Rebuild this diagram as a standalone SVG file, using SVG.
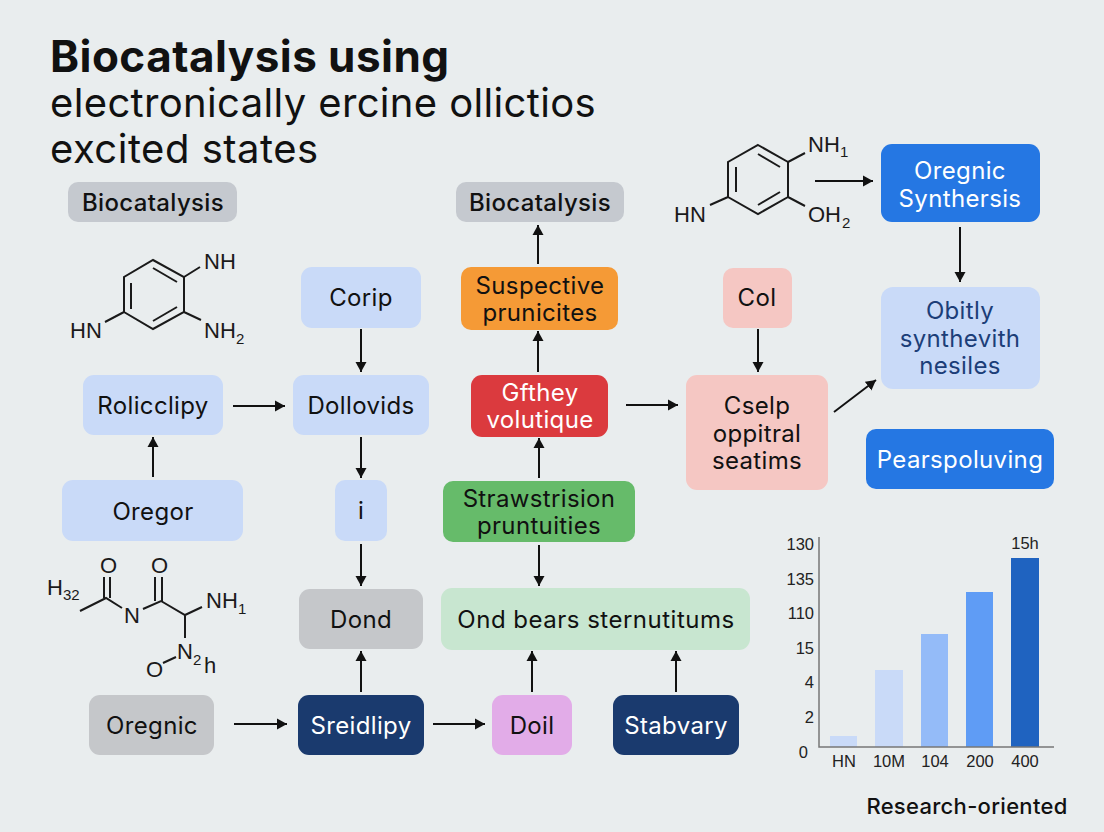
<svg xmlns="http://www.w3.org/2000/svg" width="1104" height="832" viewBox="0 0 1104 832">
<defs>
<marker id="ah" markerUnits="userSpaceOnUse" markerWidth="12" markerHeight="12" refX="10" refY="6" orient="auto"><path d="M0 0.5L10 6L0 11.5z" fill="#111"/></marker>
</defs>
<style>
text{font-family:"Inter","Liberation Sans",sans-serif;fill:#111;text-anchor:middle}
.n{font-size:24px;letter-spacing:.35px}
.c{stroke:#111;stroke-width:2;fill:none;marker-end:url(#ah)}
.b{stroke:#1a1a1a;stroke-width:2;fill:none}
.m{font-family:"Liberation Sans",sans-serif;font-size:22px;fill:#1a1a1a;text-anchor:start}
.ms{font-family:"Liberation Sans",sans-serif;font-size:15px;fill:#1a1a1a;text-anchor:start}
.t{font-family:"Liberation Sans",sans-serif;font-size:16.5px;fill:#222}
.y{font-family:"Liberation Sans",sans-serif;font-size:16.5px;fill:#222;text-anchor:end}
.l{text-anchor:start}
</style>
<rect width="1104" height="832" fill="#e9edee"/>
<g id="title">
<text class="l" x="50" y="72" style="font-size:44px;font-weight:700;letter-spacing:.45px">Biocatalysis using</text>
<text class="l" x="50" y="117" style="font-size:40px;letter-spacing:.35px">electronically ercine ollictios</text>
<text class="l" x="50" y="163" style="font-size:40px;letter-spacing:.5px">excited states</text>
</g>
<g id="connectors">
<path class="c" d="M815 181H873"/>
<path class="c" d="M960 227V282"/>
<path class="c" d="M538 264V225"/>
<path class="c" d="M538 372V331"/>
<path class="c" d="M539 478V438"/>
<path class="c" d="M539 545V586"/>
<path class="c" d="M361 329V372"/>
<path class="c" d="M361 437V478"/>
<path class="c" d="M361 544V586"/>
<path class="c" d="M361 692V651"/>
<path class="c" d="M758 329V372"/>
<path class="c" d="M233 406H285"/>
<path class="c" d="M153 477V437"/>
<path class="c" d="M626 405H678"/>
<path class="c" d="M834 412L876 380"/>
<path class="c" d="M234 724H287"/>
<path class="c" d="M433 724H485"/>
<path class="c" d="M532 692V651"/>
<path class="c" d="M676 692V651"/>
</g>
<g id="n1"><rect x="68" y="182" width="169" height="40" rx="10" fill="#c5c9cf"/><text class="n" x="153" y="211" style="font-weight:500">Biocatalysis</text></g>
<g id="n2"><rect x="456" y="182" width="168" height="40" rx="10" fill="#c5c9cf"/><text class="n" x="540" y="211" style="font-weight:500">Biocatalysis</text></g>
<g id="n3"><rect x="881" y="144" width="159" height="78" rx="11" fill="#2577e3"/><text class="n" x="960" y="179" style="fill:#fff">Oregnic</text><text class="n" x="960" y="207" style="fill:#fff">Synthersis</text></g>
<g id="n4"><rect x="881" y="287" width="159" height="102" rx="12" fill="#c9daf8"/><text class="n" x="960" y="319" style="fill:#1c3e78">Obitly</text><text class="n" x="960" y="347" style="fill:#1c3e78">synthevith</text><text class="n" x="960" y="374" style="fill:#1c3e78">nesiles</text></g>
<g id="n5"><rect x="866" y="429" width="188" height="60" rx="10" fill="#2577e3"/><text class="n" x="960" y="468" style="fill:#fff">Pearspoluving</text></g>
<g id="n6"><rect x="301" y="267" width="120" height="61" rx="11" fill="#c9daf8"/><text class="n" x="361" y="306">Corip</text></g>
<g id="n7"><rect x="461" y="267" width="157" height="63" rx="10" fill="#f59a36"/><text class="n" x="540" y="294">Suspective</text><text class="n" x="540" y="321">prunicites</text></g>
<g id="n8"><rect x="723" y="268" width="69" height="60" rx="10" fill="#f5c7c3"/><text class="n" x="757" y="306">Col</text></g>
<g id="n9"><rect x="83" y="375" width="140" height="60" rx="11" fill="#c9daf8"/><text class="n" x="153" y="414">Rolicclipy</text></g>
<g id="n10"><rect x="293" y="375" width="136" height="60" rx="11" fill="#c9daf8"/><text class="n" x="361" y="414">Dollovids</text></g>
<g id="n11"><rect x="471" y="375" width="137" height="62" rx="11" fill="#db3a3e"/><text class="n" x="540" y="401" style="fill:#fff">Gfthey</text><text class="n" x="540" y="428" style="fill:#fff">volutique</text></g>
<g id="n12"><rect x="686" y="375" width="142" height="115" rx="11" fill="#f5c7c3"/><text class="n" x="757" y="414">Cselp</text><text class="n" x="757" y="442">oppitral</text><text class="n" x="757" y="469">seatims</text></g>
<g id="n13"><rect x="62" y="480" width="181" height="61" rx="11" fill="#c9daf8"/><text class="n" x="153" y="520">Oregor</text></g>
<g id="n14"><rect x="335" y="480" width="52" height="61" rx="10" fill="#c9daf8"/><text class="n" x="361" y="519">i</text></g>
<g id="n15"><rect x="443" y="481" width="192" height="61" rx="10" fill="#66bb6a"/><text class="n" x="539" y="507">Strawstrision</text><text class="n" x="539" y="534">pruntuities</text></g>
<g id="n16"><rect x="299" y="589" width="124" height="60" rx="11" fill="#c5c7ca"/><text class="n" x="361" y="628">Dond</text></g>
<g id="n17"><rect x="441" y="588" width="309" height="62" rx="11" fill="#c8e6d0"/><text class="n" x="596" y="628" style="letter-spacing:.5px">Ond bears sternutitums</text></g>
<g id="n18"><rect x="89" y="695" width="125" height="60" rx="11" fill="#c5c7ca"/><text class="n" x="152" y="734">Oregnic</text></g>
<g id="n19"><rect x="298" y="695" width="126" height="60" rx="11" fill="#1a3a6e"/><text class="n" x="361" y="734" style="fill:#fff">Sreidlipy</text></g>
<g id="n20"><rect x="492" y="695" width="80" height="60" rx="11" fill="#e2ace8"/><text class="n" x="532" y="734">Doil</text></g>
<g id="n21"><rect x="613" y="695" width="126" height="60" rx="11" fill="#1a3a6e"/><text class="n" x="676" y="734" style="fill:#fff">Stabvary</text></g>
<g id="mol1">
<path class="b" d="M153 260L184 277V312L153 329L124 312V277Z M153 268L177 282 M177 307L153 321 M131 283V309 M184 277L200 267 M184 312L201 320 M124 312L105 322"/>
<text class="m" x="204" y="269">NH</text><text class="m" x="204" y="338">NH</text><text class="ms" x="236" y="344">2</text><text class="m" x="70" y="338">HN</text>
</g>
<g id="mol2">
<path class="b" d="M80 611L106 598L122 608 M143 609L161 601L185 615L202 607 M185 615V638 M163 663L176 657 M104 598V577 M110 598V577 M155 601V577 M162 601V577"/>
<text class="m" x="47" y="595">H</text><text class="ms" x="63" y="600">32</text>
<text class="m" x="100" y="573">O</text><text class="m" x="151" y="573">O</text>
<text class="m" x="124" y="623">N</text>
<text class="m" x="206" y="608">NH</text><text class="ms" x="238" y="614">1</text>
<text class="m" x="177" y="659">N</text><text class="ms" x="193" y="665">2</text><text class="m" x="204" y="673">h</text>
<text class="m" x="146" y="677">O</text>
</g>
<g id="mol3">
<path class="b" d="M758 145L788 162V197L758 214L728 197V162Z M758 154L780 167 M780 192L758 205 M736 167V192 M788 162L805 153 M788 197L805 206 M728 197L710 205"/>
<text class="m" x="808" y="152">NH</text><text class="ms" x="840" y="157">1</text><text class="m" x="808" y="222">OH</text><text class="ms" x="842" y="228">2</text><text class="m" x="674" y="222">HN</text>
</g>
<g id="chart">
<rect x="830" y="736" width="27" height="11" fill="#c9daf8"/>
<rect x="875" y="670" width="28" height="77" fill="#c9daf8"/>
<rect x="921" y="634" width="27" height="113" fill="#94bbf8"/>
<rect x="966" y="592" width="27" height="155" fill="#5f9cf5"/>
<rect x="1011" y="558" width="28" height="189" fill="#1f63c0"/>
<path d="M819 537V747H1054" fill="none" stroke="#777" stroke-width="1.5"/>
<text class="y" x="814" y="550">130</text><text class="y" x="814" y="585">135</text><text class="y" x="814" y="619">110</text><text class="y" x="814" y="654">15</text><text class="y" x="814" y="688">4</text><text class="y" x="814" y="723">2</text><text class="y" x="808" y="758">0</text>
<text class="t" x="844" y="767">HN</text><text class="t" x="889" y="767">10M</text><text class="t" x="935" y="767">104</text><text class="t" x="980" y="767">200</text><text class="t" x="1025" y="767">400</text><text class="t" x="1025" y="549">15h</text>
</g>
<text id="footer" x="967" y="814" style="font-size:22px;font-weight:500;letter-spacing:.3px">Research-oriented</text>
</svg>
